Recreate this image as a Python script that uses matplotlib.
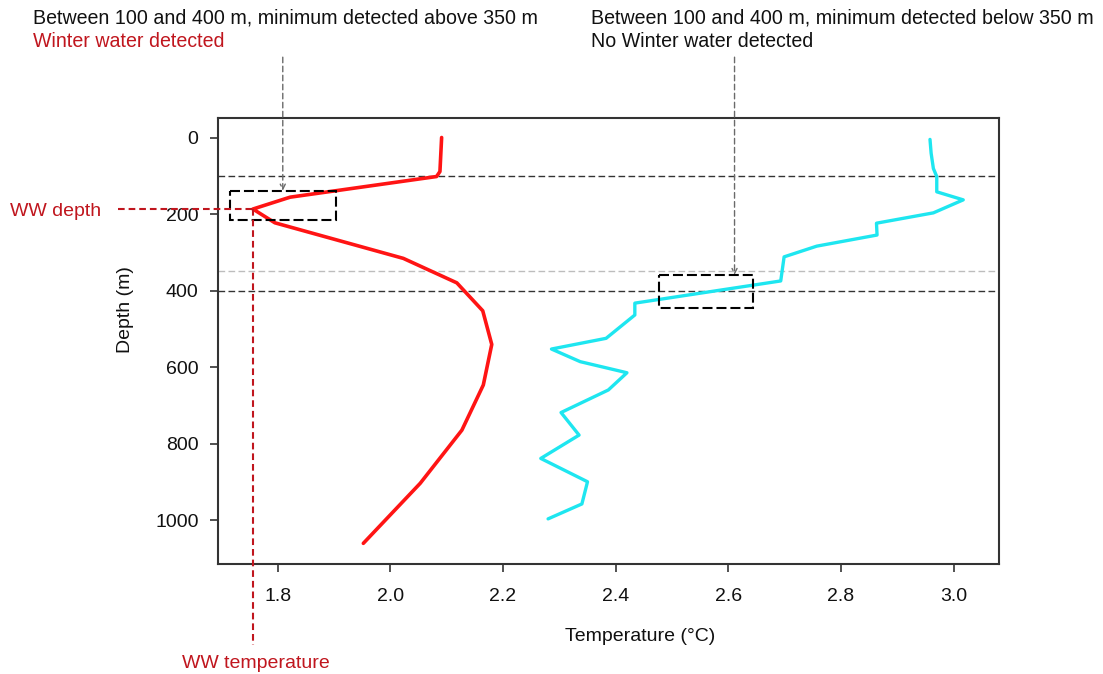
import matplotlib
matplotlib.use("Agg")
import matplotlib.pyplot as plt
from matplotlib.patches import Rectangle

plt.rcParams['font.family'] = ['Liberation Sans', 'DejaVu Sans']

# ---------------- data ----------------
depth_red = [0, 89, 102, 156, 187, 223, 316, 380, 453, 541, 647, 765, 904, 1061]
temp_red = [2.091, 2.088, 2.082, 1.822, 1.756, 1.795, 2.023, 2.118, 2.164,
            2.180, 2.165, 2.127, 2.053, 1.952]

depth_cyan = [5, 41, 81, 102, 142, 163, 197, 224, 255, 284, 312, 375, 433, 464,
              525, 553, 586, 615, 660, 719, 778, 839, 900, 958, 997]
temp_cyan = [2.958, 2.960, 2.964, 2.970, 2.970, 3.017, 2.964, 2.863, 2.864,
             2.757, 2.699, 2.693, 2.434, 2.434, 2.383, 2.286, 2.337, 2.420,
             2.387, 2.303, 2.335, 2.267, 2.350, 2.340, 2.280]

x_ticks = [1.8, 2.0, 2.2, 2.4, 2.6, 2.8, 3.0]
x_ticklabels = ["1.8", "2.0", "2.2", "2.4", "2.6", "2.8", "3.0"]
y_ticks = [0, 200, 400, 600, 800, 1000]
y_ticklabels = ["0", "200", "400", "600", "800", "1000"]

layer_depths = [100, 400]      # black dashed limits
threshold_depth = 350          # grey dashed limit

# detection boxes (temp0, depth0, temp1, depth1)
box_ww = (1.715, 139, 1.903, 216)
box_noww = (2.477, 359.5, 2.644, 446.5)
arrow_temps = [1.809, 2.611]

title_left = "Between 100 and 400 m, minimum detected above 350 m"
sub_left = "Winter water detected"
title_right = "Between 100 and 400 m, minimum detected below 350 m"
sub_right = "No Winter water detected"

# ---------------- figure ----------------
W, H = 1103, 674
fig = plt.figure(figsize=(W / 100, H / 100), dpi=100)
ax = fig.add_axes([218 / W, 1 - 564 / H, (999 - 218) / W, (564 - 118) / H])
ax.set_xlim(1.694, 3.0805)
ax.set_ylim(1115, -51)

dark_red = '#c0161e'

for d in layer_depths:
    ax.axhline(d, color='#333333', lw=1.0, dashes=(4.8, 2.4), zorder=1)
ax.axhline(threshold_depth, color='#bdbdbd', lw=1.0, dashes=(4.8, 2.4), zorder=1)

ax.plot(temp_red, depth_red, color='#ff1414', lw=2.6, solid_joinstyle='round',
        solid_capstyle='round', zorder=3)
ax.plot(temp_cyan, depth_cyan, color='#1ee6f0', lw=2.4, solid_joinstyle='round',
        solid_capstyle='round', zorder=3)

for b in (box_ww, box_noww):
    ax.add_patch(Rectangle((b[0], b[1]), b[2] - b[0], b[3] - b[1], fill=False,
                           ec='black', lw=1.5, linestyle=(0, (4.8, 1.9)), zorder=4))

# arrows from the header texts to the boxes
arrow_top_depth = -210
for t, b in zip(arrow_temps, (box_ww, box_noww)):
    ax.annotate('', xy=(t, b[1]), xycoords='data', xytext=(t, arrow_top_depth),
                textcoords='data', annotation_clip=False,
                arrowprops=dict(arrowstyle='->', color='#6a6a6a', lw=1.0,
                                linestyle=(0, (4, 2.5)), shrinkA=0, shrinkB=0,
                                mutation_scale=9))

# WW depth / temperature markers taken from the red profile minimum
i_min = temp_red.index(min(temp_red))
ww_temp, ww_depth = temp_red[i_min], depth_red[i_min]
ax.plot([1.5165, ww_temp], [ww_depth, ww_depth], color=dark_red, lw=1.5,
        dashes=(3.2, 1.9), clip_on=False, zorder=5)
ax.plot([ww_temp, ww_temp], [ww_depth, 1327], color=dark_red, lw=1.5,
        dashes=(3.2, 1.9), clip_on=False, zorder=5)

# axes style
for s in ax.spines.values():
    s.set_color('#333333')
    s.set_linewidth(1.5)
ax.set_xticks(x_ticks)
ax.set_xticklabels(x_ticklabels)
ax.set_yticks(y_ticks)
ax.set_yticklabels(y_ticklabels)
ax.tick_params(axis='both', direction='out', length=6, width=1.2,
               color='#333333', labelsize=14, labelcolor='#111111')
ax.tick_params(axis='x', pad=11.5)
ax.tick_params(axis='y', pad=8)

# texts
def ftext(x, y, s, size=14, **kw):
    fig.text(x / W, 1 - y / H, s, fontsize=size, **kw)

ftext(33, 24, title_left, size=14.15, va='baseline', ha='left', color='#111111')
ftext(33, 47, sub_left, size=14.15, va='baseline', ha='left', color=dark_red)
ftext(591, 24, title_right, size=14.15, va='baseline', ha='left', color='#111111')
ftext(591, 47, sub_right, size=14.15, va='baseline', ha='left', color='#111111')
ftext(10.5, 216, "WW depth", va='baseline', ha='left', color=dark_red)
ftext(181.5, 668, "WW temperature", va='baseline', ha='left', color=dark_red)
ftext(565, 641, "Temperature (°C)", va='baseline', ha='left', color='#111111')
ftext(125, 310, "Depth (m)", va='center', ha='center', rotation=90, color='#111111')

fig.savefig('out.png', dpi=100, facecolor='white')
